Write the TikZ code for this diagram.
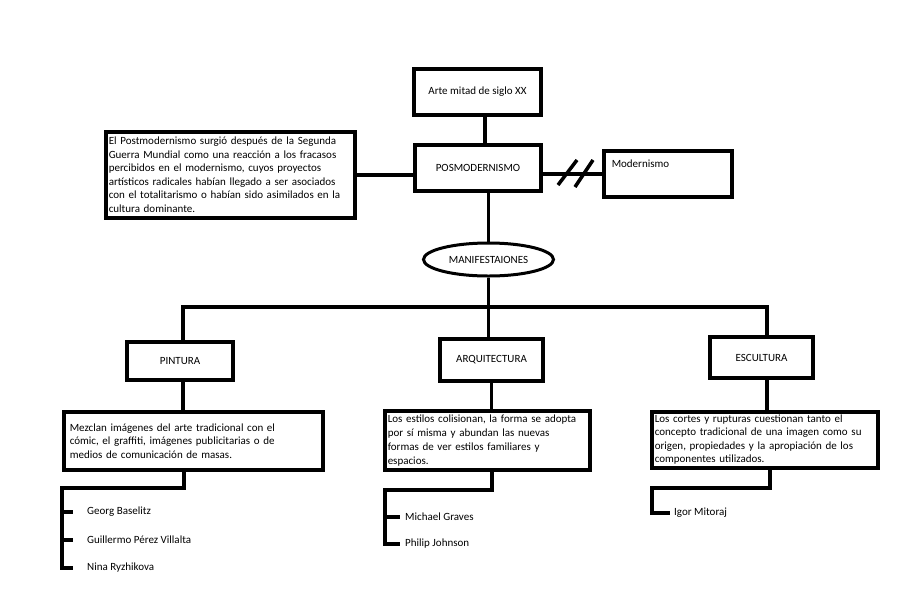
\documentclass[tikz,border=0pt]{standalone}
\usepackage{fontspec}
\setmainfont{Carlito}
\usetikzlibrary{shapes.geometric}

\begin{document}
\begin{tikzpicture}[x=1pt, y=-1pt,
	caja/.style={draw, line width=3.5pt, inner sep=0pt, font=\fontsize{11}{13.5}\selectfont},
	texto/.style={caja, anchor=north west, align=left, inner xsep=3pt, inner ysep=2pt},
	nombre/.style={anchor=west, inner sep=0pt, font=\fontsize{11}{13.5}\selectfont},
	linea/.style={line width=3.5pt}]
	\fill [white] (0,0) rectangle (899,595);

	\coordinate (eje) at (485, 0);
	\coordinate (busL) at (183, 307);
	\coordinate (busR) at (767, 307);
	\coordinate (pcodo) at (184, 488);
	\coordinate (ptronco) at (62, 488);
	\coordinate (acodo) at (492, 490);
	\coordinate (atronco) at (385, 490);
	\coordinate (ecodo) at (770, 488);
	\coordinate (etronco) at (652, 488);

	\node [caja, minimum width=127, minimum height=46] (arte) at (477.5, 92) {Arte mitad de siglo XX};
	\node [caja, minimum width=126, minimum height=46] (pos) at (478, 168) {POSMODERNISMO};
	\node [texto, text width=243, minimum height=86] (izq) at (104, 130) {El Postmodernismo surgió después de la Segunda\\ Guerra Mundial como una reacción a los fracasos\\ percibidos en el modernismo, cuyos proyectos\\ artísticos radicales habían llegado a ser asociados\\ con el totalitarismo o habían sido asimilados en la\\ cultura dominante.};
	\node [caja, anchor=north west, align=left, inner xsep=8pt, inner ysep=0pt, text width=112, text height=17, text depth=29] (mod) at (602, 149) {Modernismo};
	\node [ellipse, draw, line width=3pt, inner sep=0pt, minimum width=130, minimum height=33, font=\fontsize{11}{13.5}\selectfont] (man) at (488.5, 259.5) {MANIFESTAIONES};

	\node [caja, minimum width=106, minimum height=38] (pin) at (180, 361) {PINTURA};
	\node [caja, minimum width=103, minimum height=42] (arq) at (491.5, 360) {ARQUITECTURA};
	\node [caja, minimum width=103, minimum height=41] (esc) at (761.5, 357.5) {ESCULTURA};

	\node [texto, inner xsep=6pt, text width=247, minimum height=58] (pintxt) at (62, 410) {Mezclan imágenes del arte tradicional con el\\ cómic, el graffiti, imágenes publicitarias o de\\ medios de comunicación de masas.};
	\node [texto, inner ysep=3pt, text width=199, minimum height=59, font=\fontsize{11}{14}\selectfont] (arqtxt) at (383, 409) {Los estilos colisionan, la forma se adopta\\ por sí misma y abundan las nuevas\\ formas de ver estilos familiares y\\ espacios.};
	\node [texto, text width=220, minimum height=56] (esctxt) at (650, 410) {Los cortes y rupturas cuestionan tanto el\\ concepto tradicional de una imagen como su\\ origen, propiedades y la apropiación de los\\ componentes utilizados.};

	\node [nombre] (n1) at (87, 512) {Georg Baselitz};
	\node [nombre] (n2) at (87, 540) {Guillermo Pérez Villalta};
	\node [nombre] (n3) at (87, 568) {Nina Ryzhikova};
	\node [nombre] (m1) at (405, 517) {Michael Graves};
	\node [nombre] (m2) at (405, 544) {Philip Johnson};
	\node [nombre] (i1) at (674, 513) {Igor Mitoraj};

	\draw [linea] (eje |- arte.south) -- (eje |- pos.north);
	\draw [linea] (izq.east) -- (izq.east -| pos.west);
	\draw [linea] (pos.east |- mod.west) -- (mod.west);
	\draw [linea] (558, 185) -- (577, 160);
	\draw [linea] (575, 187) -- (593, 160);
	\draw [linea] (man.north |- pos.south) -- (man.north);
	\draw [linea] (man.south) -- (man.south |- busL) -- (man.south |- arq.north);
	\draw [linea] (busL |- pin.north) -- (busL) -- (busR) -- (busR |- esc.north);

	\draw [linea] (busL |- pin.south) -- (busL |- pintxt.north);
	\draw [linea] (arq.south) -- (arq.south |- arqtxt.north);
	\draw [linea] (busR |- esc.south) -- (busR |- esctxt.north);

	\draw [linea] (pcodo |- pintxt.south) -- (pcodo) -- (ptronco) -- (ptronco |- n3.west) -- ([xshift=-14pt]n3.west);
	\draw [linea] (ptronco |- n1.west) -- ([xshift=-14pt]n1.west);
	\draw [linea] (ptronco |- n2.west) -- ([xshift=-14pt]n2.west);
	\draw [linea] (acodo |- arqtxt.south) -- (acodo) -- (atronco) -- (atronco |- m2.west) -- ([xshift=-5pt]m2.west);
	\draw [linea] (atronco |- m1.west) -- ([xshift=-5pt]m1.west);
	\draw [linea] (ecodo |- esctxt.south) -- (ecodo) -- (etronco) -- (etronco |- i1.west) -- ([xshift=-4pt]i1.west);
\end{tikzpicture}
\end{document}
